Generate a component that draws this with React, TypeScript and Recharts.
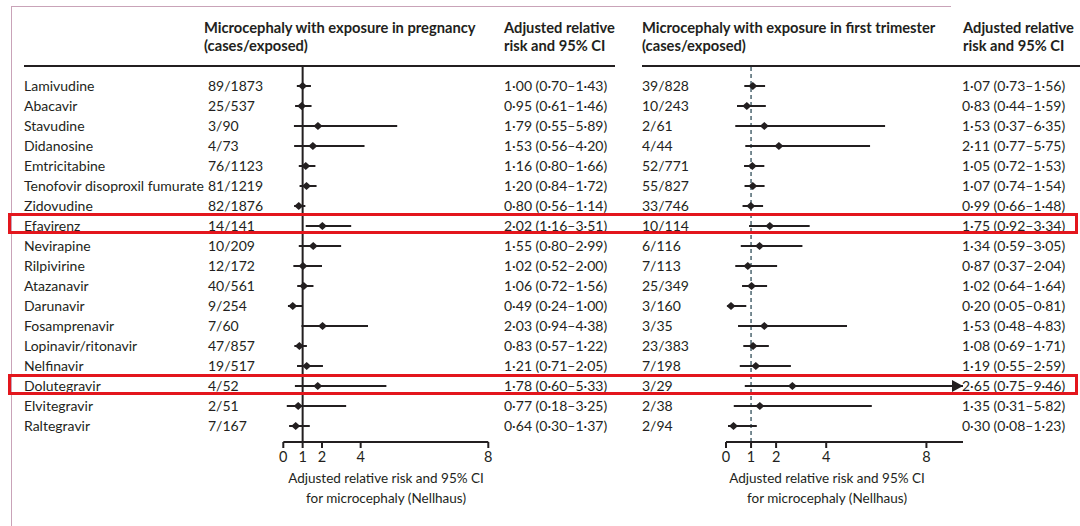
import React from 'react';
import {
  ScatterChart,
  Scatter,
  XAxis,
  YAxis,
  ErrorBar,
  ReferenceLine,
} from 'recharts';

const drugs = [
  'Lamivudine', 'Abacavir', 'Stavudine', 'Didanosine', 'Emtricitabine',
  'Tenofovir disoproxil fumurate', 'Zidovudine', 'Efavirenz', 'Nevirapine',
  'Rilpivirine', 'Atazanavir', 'Darunavir', 'Fosamprenavir', 'Lopinavir/ritonavir',
  'Nelfinavir', 'Dolutegravir', 'Elvitegravir', 'Raltegravir',
];

// exposure in pregnancy
const pregCases = [
  '89/1873', '25/537', '3/90', '4/73', '76/1123', '81/1219', '82/1876', '14/141', '10/209',
  '12/172', '40/561', '9/254', '7/60', '47/857', '19/517', '4/52', '2/51', '7/167',
];
const pregRR = [1.0, 0.95, 1.79, 1.53, 1.16, 1.2, 0.8, 2.02, 1.55, 1.02, 1.06, 0.49, 2.03, 0.83, 1.21, 1.78, 0.77, 0.64];
const pregLow = [0.7, 0.61, 0.55, 0.56, 0.8, 0.84, 0.56, 1.16, 0.8, 0.52, 0.72, 0.24, 0.94, 0.57, 0.71, 0.6, 0.18, 0.3];
const pregHigh = [1.43, 1.46, 5.89, 4.2, 1.66, 1.72, 1.14, 3.51, 2.99, 2.0, 1.56, 1.0, 4.38, 1.22, 2.05, 5.33, 3.25, 1.37];

// exposure in first trimester
const triCases = [
  '39/828', '10/243', '2/61', '4/44', '52/771', '55/827', '33/746', '10/114', '6/116',
  '7/113', '25/349', '3/160', '3/35', '23/383', '7/198', '3/29', '2/38', '2/94',
];
const triRR = [1.07, 0.83, 1.53, 2.11, 1.05, 1.07, 0.99, 1.75, 1.34, 0.87, 1.02, 0.2, 1.53, 1.08, 1.19, 2.65, 1.35, 0.3];
const triLow = [0.73, 0.44, 0.37, 0.77, 0.72, 0.74, 0.66, 0.92, 0.59, 0.37, 0.64, 0.05, 0.48, 0.69, 0.55, 0.75, 0.31, 0.08];
const triHigh = [1.56, 1.59, 6.35, 5.75, 1.53, 1.54, 1.48, 3.34, 3.05, 2.04, 1.64, 0.81, 4.83, 1.71, 2.59, 9.46, 5.82, 1.23];

// rows whose CI runs past the axis end get an arrow
const triArrowRows = [15];

// the original prints its "8" label at the end of the left axis, past where 8 falls
const LEFT_AXIS_END = 10.6;
const leftTicks = [0, 1, 2, 4, LEFT_AXIS_END];
const rightTicks = [0, 1, 2, 4, 8];
const RIGHT_AXIS_END = 9.46;

const FONT = 'Lato, "Noto Sans", sans-serif';
const INK = '#231f20';
const rows = drugs.map((_, i) => i);

const fmt = (n: number) => n.toFixed(2).replace('.', '·');
const rrText = (rr: number, lo: number, hi: number) => `${fmt(rr)} (${fmt(lo)}–${fmt(hi)})`;

const pregData = rows.map((i) => ({ x: pregRR[i], y: i, err: [pregRR[i] - pregLow[i], pregHigh[i] - pregRR[i]] }));
const triData = rows.map((i) => ({ x: triRR[i], y: i, err: [triRR[i] - triLow[i], triHigh[i] - triRR[i]] }));
const arrowData = triArrowRows.map((i) => ({ x: triHigh[i], y: i }));

const Diamond = (props: any) => {
  const { cx, cy } = props;
  return <polygon points={`${cx - 4.5},${cy} ${cx},${cy - 4} ${cx + 4.5},${cy} ${cx},${cy + 4}`} fill={INK} />;
};

const Arrow = (props: any) => {
  const { cx, cy } = props;
  return <polygon points={`${cx},${cy} ${cx - 11},${cy - 6} ${cx - 11},${cy + 6}`} fill={INK} />;
};

const textProps = { fill: INK, fontSize: 14, fontFamily: FONT, dy: '0.35em' };

const makeTick = (cols: { x: number; text: (i: number) => string }[]) => (props: any) => {
  const { y, payload } = props;
  const i = payload.value;
  return (
    <g>
      {cols.map((c, k) => (
        <text key={k} x={c.x} y={y} {...textProps}>{c.text(i)}</text>
      ))}
    </g>
  );
};

const LeftNames = makeTick([
  { x: 24, text: (i) => drugs[i] },
  { x: 208, text: (i) => pregCases[i] },
]);
const LeftRR = makeTick([{ x: 504, text: (i) => rrText(pregRR[i], pregLow[i], pregHigh[i]) }]);
const RightCases = makeTick([{ x: 22, text: (i) => triCases[i] }]);
const RightRR = makeTick([{ x: 342, text: (i) => rrText(triRR[i], triLow[i], triHigh[i]) }]);

const xAxisProps = {
  type: 'number' as const,
  dataKey: 'x',
  height: 84,
  tickSize: 6,
  tickMargin: 4,
  axisLine: { stroke: INK, strokeWidth: 2 },
  tickLine: { stroke: INK, strokeWidth: 2 },
  tick: { fill: INK, fontSize: 14.5, fontFamily: FONT },
  interval: 0 as const,
  allowDataOverflow: true,
};

const yAxisProps = {
  type: 'number' as const,
  dataKey: 'y',
  domain: [-1, 17.8],
  ticks: rows,
  reversed: true,
  interval: 0 as const,
  axisLine: false,
  tickLine: false,
  allowDataOverflow: true,
};

const headStyle: React.CSSProperties = {
  position: 'absolute',
  top: 18,
  fontFamily: FONT,
  fontWeight: 700,
  fontSize: 14.7,
  lineHeight: '18px',
  color: INK,
  whiteSpace: 'nowrap',
};

const axisTitleStyle: React.CSSProperties = {
  position: 'absolute',
  top: 468,
  width: 260,
  textAlign: 'center',
  fontFamily: FONT,
  fontSize: 13.5,
  lineHeight: '20px',
  color: INK,
};

const rule = (left: number, width: number): React.CSSProperties => ({
  position: 'absolute', left, top: 65, width, height: 2, background: INK,
});

const redBox = (top: number): React.CSSProperties => ({
  position: 'absolute', left: 8, top, width: 1064, height: 15, border: '3px solid #e3161d',
});

export default function App() {
  return (
    <div style={{ position: 'absolute', left: 0, top: 0, width: 1080, height: 526, background: '#fff', overflow: 'hidden' }}>
      {/* page frame */}
      <div style={{ position: 'absolute', left: 11, top: 6, width: 1, height: 520, background: '#c9a3b8' }} />
      <div style={{ position: 'absolute', left: 11, top: 6, width: 940, height: 1, background: '#c9a3b8' }} />

      <div style={{ ...headStyle, left: 204 }}>Microcephaly with exposure in pregnancy<br />(cases/exposed)</div>
      <div style={{ ...headStyle, left: 504 }}>Adjusted relative<br />risk and 95% CI</div>
      <div style={{ ...headStyle, left: 642 }}>Microcephaly with exposure in first trimester<br />(cases/exposed)</div>
      <div style={{ ...headStyle, left: 963 }}>Adjusted relative<br />risk and 95% CI</div>

      <div style={rule(24, 591)} />
      <div style={rule(642, 438)} />

      <div style={{ position: 'absolute', left: 0, top: 0 }}>
        <ScatterChart width={640} height={526} margin={{ top: 66, right: 0, bottom: 0, left: 0 }}>
          <XAxis
            {...xAxisProps}
            xAxisId="x"
            domain={[0, LEFT_AXIS_END]}
            ticks={leftTicks}
            tickFormatter={(v: number) => (v === LEFT_AXIS_END ? '8' : String(v))}
          />
          <YAxis {...yAxisProps} yAxisId="names" width={283.3} tick={LeftNames} />
          <YAxis {...yAxisProps} yAxisId="rr" orientation="right" width={151.7} tick={LeftRR} />
          <ReferenceLine x={1} xAxisId="x" yAxisId="names" stroke={INK} strokeWidth={2} />
          <Scatter data={pregData} xAxisId="x" yAxisId="names" shape={<Diamond />} isAnimationActive={false}>
            <ErrorBar dataKey="err" direction="x" width={0} stroke={INK} strokeWidth={2} isAnimationActive={false} />
          </Scatter>
        </ScatterChart>
      </div>

      <div style={{ position: 'absolute', left: 620, top: 0 }}>
        <ScatterChart width={460} height={526} margin={{ top: 66, right: 0, bottom: 0, left: 0 }}>
          <XAxis {...xAxisProps} xAxisId="x" domain={[0, RIGHT_AXIS_END]} ticks={rightTicks} />
          <YAxis {...yAxisProps} yAxisId="names" width={106} tick={RightCases} />
          <YAxis {...yAxisProps} yAxisId="rr" orientation="right" width={117} tick={RightRR} />
          <ReferenceLine x={1} xAxisId="x" yAxisId="names" stroke="#4d6670" strokeWidth={1.5} strokeDasharray="4 3" />
          <Scatter data={triData} xAxisId="x" yAxisId="names" shape={<Diamond />} isAnimationActive={false}>
            <ErrorBar dataKey="err" direction="x" width={0} stroke={INK} strokeWidth={2} isAnimationActive={false} />
          </Scatter>
          <Scatter data={arrowData} xAxisId="x" yAxisId="names" shape={<Arrow />} isAnimationActive={false} />
        </ScatterChart>
      </div>

      <div style={{ ...axisTitleStyle, left: 256 }}>Adjusted relative risk and 95% CI<br />for microcephaly (Nellhaus)</div>
      <div style={{ ...axisTitleStyle, left: 697 }}>Adjusted relative risk and 95% CI<br />for microcephaly (Nellhaus)</div>

      <div style={redBox(213)} />
      <div style={redBox(374)} />
    </div>
  );
}
